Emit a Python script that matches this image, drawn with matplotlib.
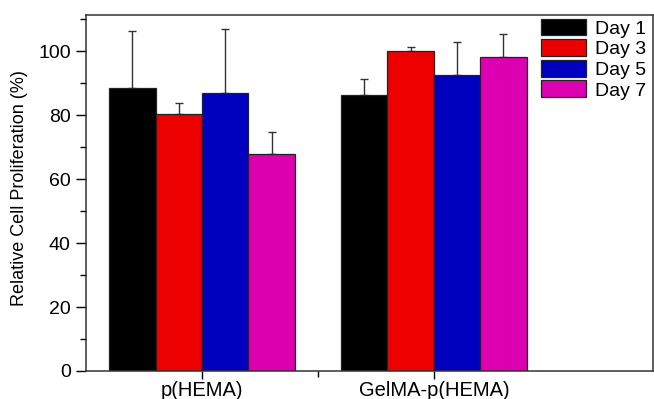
import matplotlib
matplotlib.use("Agg")
import matplotlib.pyplot as plt
import numpy as np
from matplotlib.ticker import MultipleLocator

plt.rcParams['font.family'] = ['Liberation Sans', 'DejaVu Sans']

groups = ['p(HEMA)', 'GelMA-p(HEMA)']
days = ['Day 1', 'Day 3', 'Day 5', 'Day 7']
colors = ['#000000', '#ec0000', '#0000bf', '#dd00b0']

# mean values per day, one entry per group
day1 = [88.4, 86.2]
day3 = [80.3, 100.0]
day5 = [87.0, 92.5]
day7 = [67.8, 98.2]
# upper error (sd)
err1 = [17.8, 5.2]
err3 = [3.4, 1.3]
err5 = [20.0, 10.5]
err7 = [6.9, 7.1]

means = [day1, day3, day5, day7]
errs = [err1, err3, err5, err7]

fig = plt.figure(figsize=(6.54, 3.99), dpi=100)
ax = fig.add_axes([0.1315, 0.0702, 0.867, 0.8922])

x = np.arange(1, len(groups) + 1)
w = 0.2
offsets = [-1.5 * w, -0.5 * w, 0.5 * w, 1.5 * w]

for m, e, c, lab, off in zip(means, errs, colors, days, offsets):
    ax.bar(x + off, m, width=w, color=c, edgecolor='#222222', linewidth=0.9, label=lab, zorder=2)
    ax.errorbar(x + off, m, yerr=[np.zeros(len(e)), e], fmt='none', ecolor='#333333',
                elinewidth=1.0, capsize=3, capthick=1.0, zorder=1)

ax.set_xlim(0.5, 2.945)
ax.set_ylim(0, 111.3)
ax.set_xticks(x)
ax.set_xticklabels(groups, fontsize=14.5)
ax.set_xticks([1.5], minor=True)
ax.yaxis.set_major_locator(MultipleLocator(20))
ax.yaxis.set_minor_locator(MultipleLocator(10))
ax.tick_params(axis='y', which='major', direction='out', length=7, width=1, labelsize=14, pad=4)
ax.tick_params(axis='y', which='minor', direction='out', length=4, width=1)
ax.tick_params(axis='x', which='major', direction='out', length=6, width=1, pad=1.5)
ax.tick_params(axis='x', which='minor', direction='out', length=4, width=1)
for s in ax.spines.values():
    s.set_linewidth(1.1)
    s.set_color('#333333')

ax.set_ylabel('Relative Cell Proliferation (%)', fontsize=13)
ax.yaxis.set_label_coords(-0.102, 0.515)

ax.legend(loc='upper left', bbox_to_anchor=(0.802, 0.99), frameon=False, fontsize=14,
          handlelength=2.35, handleheight=0.95, labelspacing=0.08, handletextpad=0.45,
          borderpad=0, borderaxespad=0)

fig.savefig('out.png', dpi=100)
